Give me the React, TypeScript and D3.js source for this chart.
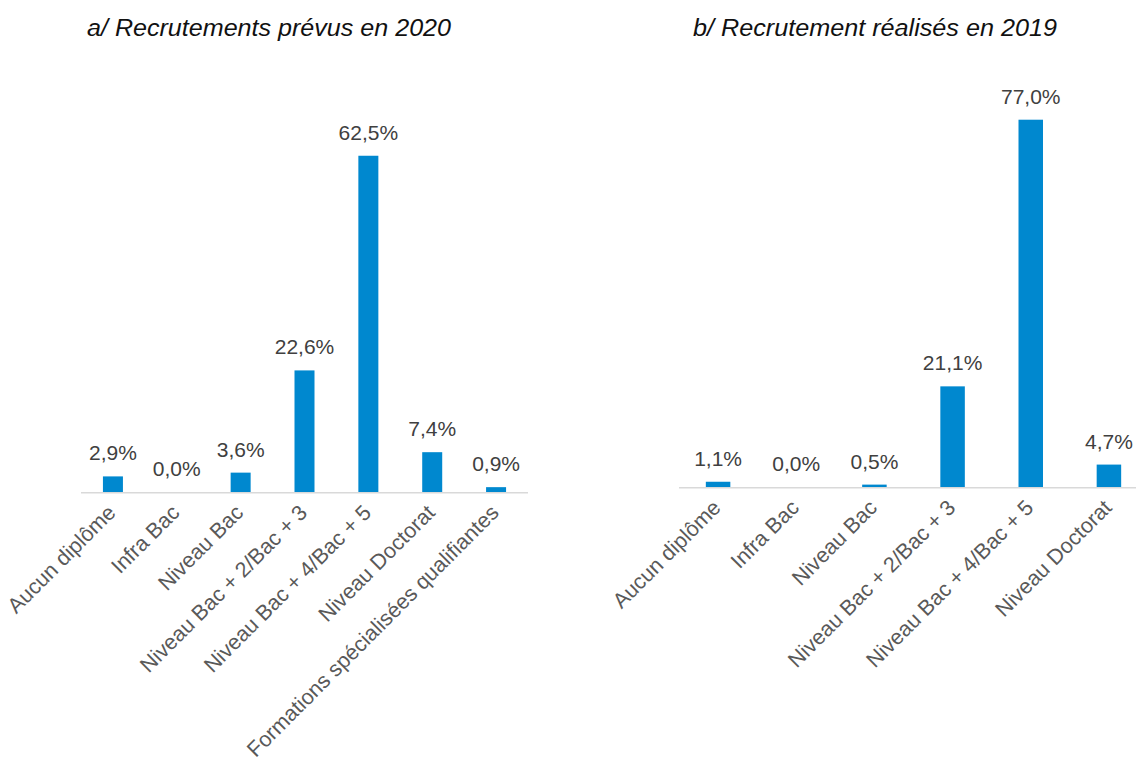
import React from "react";
import * as d3 from "d3";

const categoriesA = [
  "Aucun diplôme",
  "Infra Bac",
  "Niveau Bac",
  "Niveau Bac + 2/Bac + 3",
  "Niveau Bac + 4/Bac + 5",
  "Niveau Doctorat",
  "Formations spécialisées qualifiantes",
];
const valuesA = [2.9, 0.0, 3.6, 22.6, 62.5, 7.4, 0.9];

const categoriesB = [
  "Aucun diplôme",
  "Infra Bac",
  "Niveau Bac",
  "Niveau Bac + 2/Bac + 3",
  "Niveau Bac + 4/Bac + 5",
  "Niveau Doctorat",
];
const valuesB = [1.1, 0.0, 0.5, 21.1, 77.0, 4.7];

const titleA = "a/ Recrutements prévus en 2020";
const titleB = "b/ Recrutement réalisés en 2019";

const BAR = "#0088cf";
const FONT = "'Liberation Sans', Arial, sans-serif";

type PanelProps = {
  cats: string[];
  vals: number[];
  title: string;
  x0: number;
  x1: number;
  base: number;
  pxPerPct: number;
  barW: number;
  titleX: number;
};

function fmt(v: number) {
  return v.toFixed(1).replace(".", ",") + "%";
}

function Panel({ cats, vals, title, x0, x1, base, pxPerPct, barW, titleX }: PanelProps) {
  const x = d3.scaleBand<string>().domain(cats).range([x0, x1]).paddingInner(0).paddingOuter(0);
  const y = d3.scaleLinear().domain([0, 80]).range([base, base - 80 * pxPerPct]);
  return (
    <g>
      <text
        x={titleX}
        y={35.5}
        textAnchor="middle"
        fontFamily={FONT}
        fontStyle="italic"
        fontSize={24.5}
        fill="#111"
        textLength={364}
        lengthAdjust="spacingAndGlyphs"
      >
        {title}
      </text>
      {cats.map((c, i) => {
        const cx = (x(c) as number) + x.bandwidth() / 2;
        const v = vals[i];
        return (
          <g key={c}>
            {v > 0 && (
              <rect x={cx - barW / 2} y={y(v)} width={barW} height={base - y(v)} fill={BAR} />
            )}
            <text
              x={cx}
              y={y(v) - 16}
              textAnchor="middle"
              fontFamily={FONT}
              fontSize={21}
              fill="#404040"
            >
              {fmt(v)}
            </text>
            <text
              transform={`translate(${cx + 4},${base + 22}) rotate(-45)`}
              textAnchor="end"
              fontFamily={FONT}
              fontSize={21.5}
              fill="#595959"
            >
              {c}
            </text>
          </g>
        );
      })}
      <line x1={x0} x2={x1} y1={base + 0.75} y2={base + 0.75} stroke="#d9d9d9" strokeWidth={1.5} />
    </g>
  );
}

export default function App() {
  return (
    <svg
      width={1136}
      height={761}
      style={{ position: "absolute", left: 0, top: 0, background: "#fff" }}
    >
      <rect width={1136} height={761} fill="#fff" />
      <Panel
        cats={categoriesA}
        vals={valuesA}
        title={titleA}
        x0={81}
        x1={528}
        base={492}
        pxPerPct={5.38}
        barW={20}
        titleX={269}
      />
      <Panel
        cats={categoriesB}
        vals={valuesB}
        title={titleB}
        x0={679}
        x1={1148}
        base={487}
        pxPerPct={4.77}
        barW={24.5}
        titleX={875}
      />
    </svg>
  );
}
